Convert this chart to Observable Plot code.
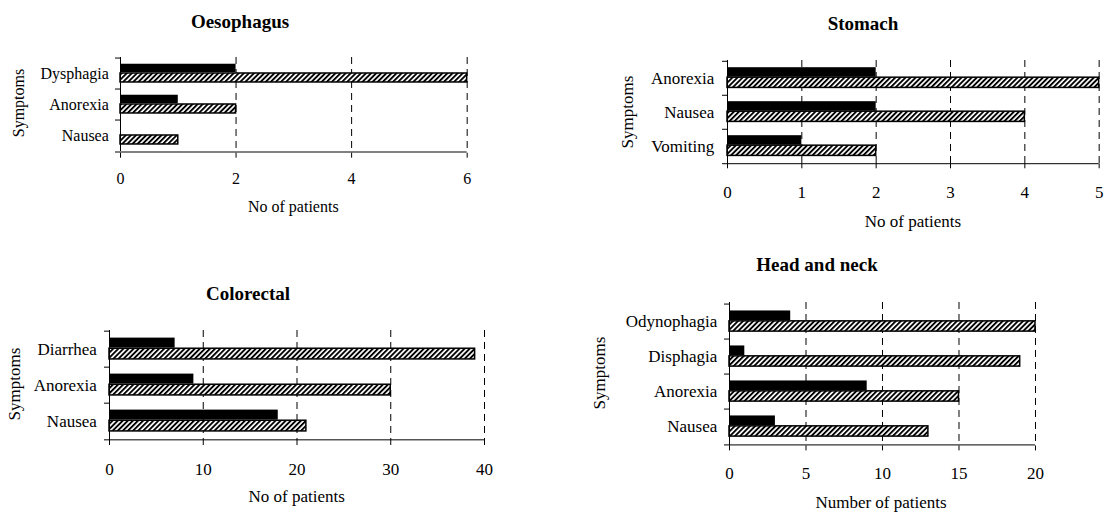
<!DOCTYPE html>
<html>
<head>
<meta charset="utf-8">
<script src="https://cdn.jsdelivr.net/npm/d3@7"></script>
<script src="https://cdn.jsdelivr.net/npm/@observablehq/plot@0.6"></script>
<style>
  html, body { margin: 0; padding: 0; background: #fff; }
  #chart { position: relative; width: 1107px; height: 513px; overflow: hidden; background: #fff;
           font-family: "Liberation Serif", "DejaVu Serif", serif; color: #000; }
  .lbl { position: absolute; white-space: nowrap; line-height: 1; transform: translate(-50%, -50%); }
  .title { font-weight: bold; font-size: 19px; }
  .rot { transform: translate(-50%, -50%) rotate(-90deg); }
  .panel-svg { position: absolute; }
  .panel-svg text { font-family: "Liberation Serif", "DejaVu Serif", serif; }
</style>
</head>
<body>
<svg width="0" height="0" style="position:absolute">
  <defs>
    <pattern id="hatch" patternUnits="userSpaceOnUse" width="3.6" height="3.6" patternTransform="rotate(45)">
      <rect x="0" y="0" width="3.6" height="3.6" fill="#fff"></rect>
      <rect x="0" y="0" width="1.9" height="3.6" fill="#000"></rect>
    </pattern>
  </defs>
</svg>
<div id="chart"></div>
<script>
// Symptom counts per cancer site (two patient groups: solid and hatched bars)
const oesophagusSymptoms = ["Dysphagia", "Anorexia", "Nausea"];
const oesophagusGroupA = [2, 1, 0];
const oesophagusGroupB = [6, 2, 1];
const oesophagusTicks = [0, 2, 4, 6];

const stomachSymptoms = ["Anorexia", "Nausea", "Vomiting"];
const stomachGroupA = [2, 2, 1];
const stomachGroupB = [5, 4, 2];
const stomachTicks = [0, 1, 2, 3, 4, 5];

const colorectalSymptoms = ["Diarrhea", "Anorexia", "Nausea"];
const colorectalGroupA = [7, 9, 18];
const colorectalGroupB = [39, 30, 21];
const colorectalTicks = [0, 10, 20, 30, 40];

const headNeckSymptoms = ["Odynophagia", "Disphagia", "Anorexia", "Nausea"];
const headNeckGroupA = [4, 1, 9, 3];
const headNeckGroupB = [20, 19, 15, 13];
const headNeckTicks = [0, 5, 10, 15, 20];

const chart = document.getElementById("chart");
const serif = "'Liberation Serif', 'DejaVu Serif', serif";

function addLabel(text, cx, cy, cls, size) {
  const d = document.createElement("div");
  d.className = "lbl " + cls;
  d.textContent = text;
  d.style.left = cx + "px";
  d.style.top = cy + "px";
  if (size) d.style.fontSize = size + "px";
  chart.appendChild(d);
}

function panel(cfg) {
  const {symptoms, groupA, groupB, ticks, frame, fontSize, tickPadding, labelPadding,
         axisStroke, axisWidth, title, xLabel, titlePos, xLabelPos, yLabelPos} = cfg;
  const [x0, x1, y0, y1] = frame;
  const mL = 120, mR = 8, mT = 6, mB = 40;
  const band = (y1 - y0) / symptoms.length;
  const xmax = d3.max(ticks);
  const rows = symptoms.map((s, i) => ({symptom: s, a: groupA[i], b: groupB[i]}));

  const svg = Plot.plot({
    width: mL + (x1 - x0) + mR,
    height: mT + (y1 - y0) + mB,
    marginLeft: mL, marginRight: mR, marginTop: mT, marginBottom: mB,
    style: {fontFamily: serif, fontSize: fontSize + "px",
            color: "#000", background: "transparent", overflow: "visible"},
    x: {domain: [0, xmax]},
    y: {domain: symptoms, padding: 0},
    marks: [
      Plot.gridX(ticks.filter(t => t > 0), {stroke: "#000", strokeOpacity: 1, strokeDasharray: "7,5"}),
      Plot.barX(rows, {x: "a", y: "symptom", fill: "#000",
                       insetTop: 0.18 * band, insetBottom: 0.53 * band}),
      Plot.barX(rows, {x: "b", y: "symptom", fill: "url(#hatch)", stroke: "#000", strokeWidth: 1.5,
                       insetTop: 0.47 * band, insetBottom: 0.22 * band}),
      Plot.ruleX([0], {stroke: "#000"}),
      Plot.ruleY(symptoms, {y: d => d, dy: -band / 2, x1: 0, x2: 0, insetLeft: -5, stroke: "#000"}),
      Plot.ruleY(symptoms.slice(-1), {y: d => d, dy: band / 2, x1: 0, x2: xmax, insetLeft: -5,
                                      stroke: axisStroke, strokeWidth: axisWidth}),
      Plot.axisX(ticks, {tickSize: 5, tickPadding, label: null, fontFamily: serif}),
      Plot.axisY({tickSize: 0, tickPadding: labelPadding, label: null, fontFamily: serif})
    ]
  });
  svg.classList.add("panel-svg");
  svg.style.left = (x0 - mL) + "px";
  svg.style.top = (y0 - mT) + "px";
  chart.appendChild(svg);

  addLabel(title, titlePos[0], titlePos[1], "title");
  addLabel(xLabel, xLabelPos[0], xLabelPos[1], "", fontSize);
  addLabel("Symptoms", yLabelPos[0], yLabelPos[1], "rot", fontSize);
}

panel({
  symptoms: oesophagusSymptoms, groupA: oesophagusGroupA, groupB: oesophagusGroupB, ticks: oesophagusTicks,
  frame: [120, 466.7, 57, 152.7], fontSize: 16, tickPadding: 14.7, labelPadding: 11.7,
  axisStroke: "#808080", axisWidth: 2,
  title: "Oesophagus", xLabel: "No of patients",
  titlePos: [240, 20.8], xLabelPos: [293.3, 206.7], yLabelPos: [19.3, 103.3]
});

panel({
  symptoms: stomachSymptoms, groupA: stomachGroupA, groupB: stomachGroupB, ticks: stomachTicks,
  frame: [727.3, 1099, 60, 163.3], fontSize: 17, tickPadding: 17, labelPadding: 13.3,
  axisStroke: "#000", axisWidth: 1,
  title: "Stomach", xLabel: "No of patients",
  titlePos: [863, 22.5], xLabelPos: [913, 220.5], yLabelPos: [626.7, 111.7]
});

panel({
  symptoms: colorectalSymptoms, groupA: colorectalGroupA, groupB: colorectalGroupB, ticks: colorectalTicks,
  frame: [109.3, 484.3, 330, 440], fontSize: 17, tickPadding: 17, labelPadding: 12.6,
  axisStroke: "#000", axisWidth: 1,
  title: "Colorectal", xLabel: "No of patients",
  titlePos: [248, 292.5], xLabelPos: [296.7, 495.7], yLabelPos: [14, 384.2]
});

panel({
  symptoms: headNeckSymptoms, groupA: headNeckGroupA, groupB: headNeckGroupB, ticks: headNeckTicks,
  frame: [729, 1035, 302.3, 445.7], fontSize: 17, tickPadding: 16.4, labelPadding: 12.3,
  axisStroke: "#000", axisWidth: 1,
  title: "Head and neck", xLabel: "Number of patients",
  titlePos: [817, 264], xLabelPos: [881, 501.7], yLabelPos: [599, 373]
});
</script>
</body>
</html>
